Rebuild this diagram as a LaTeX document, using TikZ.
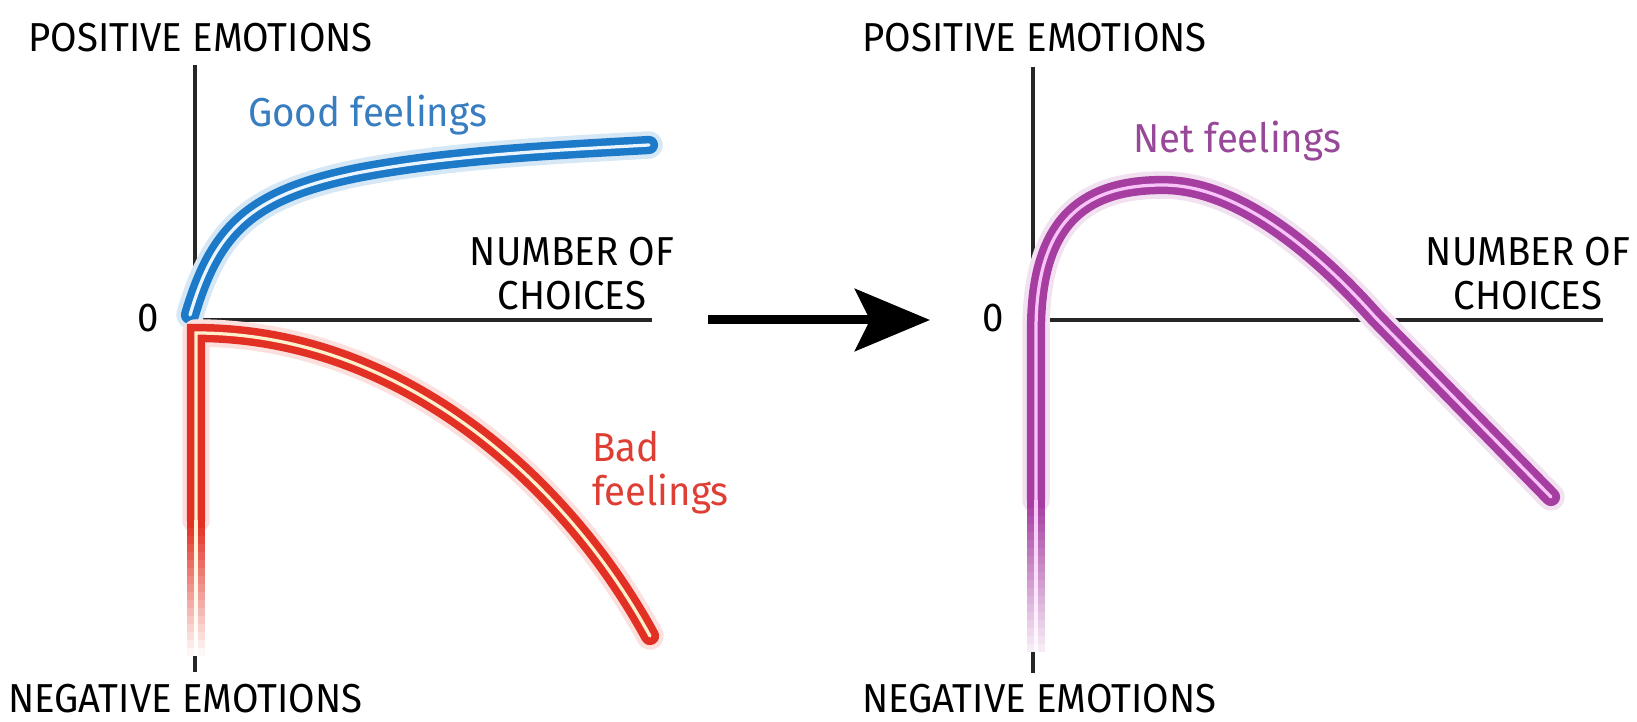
\documentclass[tikz,border=0pt]{standalone}
\usepackage{fontspec}
\setmainfont[FakeStretch=0.95]{Fira Sans}
\usetikzlibrary{arrows.meta}

\definecolor{goodblue}{RGB}{28,122,200}
\definecolor{goodtext}{RGB}{55,125,192}
\definecolor{goodcore}{RGB}{235,245,255}
\definecolor{badred}{RGB}{226,48,36}
\definecolor{badtext}{RGB}{222,62,52}
\definecolor{badcore}{RGB}{255,240,205}
\definecolor{netpurple}{RGB}{165,62,160}
\definecolor{nettext}{RGB}{152,72,152}
\definecolor{netcore}{RGB}{248,195,248}

\begin{document}
\begin{tikzpicture}[
    x=0.02cm, y=-0.02cm,
    axis/.style={draw=black!85, line width=2pt},
    lbl/.style={font=\fontsize{23}{25}\selectfont, inner sep=0pt, anchor=base west},
    glow/.style={draw=#1, line width=0.55cm, line cap=round, line join=round},
    tube/.style n args={2}{draw=#1, double=#2, line width=0.15cm, double distance=0.065cm, line cap=round, line join=miter},
    arrow/.style={-{Stealth[length=1.5cm, width=1.24cm, inset=0.3cm]}, line width=0.18cm}
]
\useasboundingbox (0,0) rectangle (1637,722);

% Axes
\coordinate (oL) at (195,320);
\coordinate (topL) at (195,65);
\coordinate (botL) at (195,672);
\coordinate (endL) at (652,320);
\coordinate (oR) at (1033,320);
\coordinate (topR) at (1033,67);
\coordinate (botR) at (1033,673);
\coordinate (endR) at (1603,320);
\draw[axis] (topL) -- (botL);
\draw[axis] (oL) -- (endL);
\draw[axis] (topR) -- (botR);
\draw[axis] (oR) -- (endR);

% Labels
\node[lbl] (posL) at (28,52) {POSITIVE EMOTIONS};
\node[lbl] (negL) at (8,712) {NEGATIVE EMOTIONS};
\node[lbl, anchor=base] (zeroL) at (148,332) {0};
\node[lbl, align=center, anchor=south] (numL) at (572,310) {NUMBER OF\\CHOICES};
\node[lbl, text=goodtext] (good) at (248,127) {Good feelings};
\node[lbl, text=badtext, align=left, anchor=north west] (bad) at (592,431) {Bad\\feelings};

\node[lbl] (posR) at (862,52) {POSITIVE EMOTIONS};
\node[lbl] (negR) at (862,712) {NEGATIVE EMOTIONS};
\node[lbl, anchor=base] (zeroR) at (993,332) {0};
\node[lbl, align=center, anchor=south] (numR) at (1528,310) {NUMBER OF\\CHOICES};
\node[lbl, text=nettext] (net) at (1133,153) {Net feelings};

% Good feelings
\draw[glow=goodblue!18] (190,315) .. controls (215,230) and (250,195) .. (357,173)
    .. controls (450,155) and (560,150) .. (649,145);
\draw[tube={goodblue}{goodcore}] (190,315) .. controls (215,230) and (250,195) .. (357,173)
    .. controls (450,155) and (560,150) .. (649,145);

% Bad feelings
\draw[glow=badred!15] (196,520) -- (196,333) .. controls (400,333) and (565,480) .. (650,636);
\draw[tube={badred}{badcore}] (196,520) -- (196,333) .. controls (400,333) and (565,480) .. (650,636);
\foreach \i in {0,...,16}{
  \pgfmathtruncatemacro{\shade}{100-6*\i}
  \draw[tube={badred!\shade!white}{badcore!\shade!white}, line cap=butt] (196,{520+8*\i}) -- (196,{528+8*\i});
}

% Net feelings
\draw[glow=netpurple!15] (1036,500) -- (1036,330) .. controls (1036,215) and (1090,185) .. (1163,185)
    .. controls (1240,185) and (1320,255) .. (1375,317) -- (1551,497);
\draw[tube={netpurple}{netcore}] (1036,500) -- (1036,330) .. controls (1036,215) and (1090,185) .. (1163,185)
    .. controls (1240,185) and (1320,255) .. (1375,317) -- (1551,497);
\foreach \i in {0,...,18}{
  \pgfmathtruncatemacro{\shade}{100-5*\i}
  \draw[tube={netpurple!\shade!white}{netcore!\shade!white}, line cap=butt] (1036,{500+8*\i}) -- (1036,{508+8*\i});
}

% Arrow between the charts
\coordinate (arrS) at (708,320);
\coordinate (arrE) at (930,320);
\draw[arrow] (arrS) -- (arrE);

\end{tikzpicture}
\end{document}
